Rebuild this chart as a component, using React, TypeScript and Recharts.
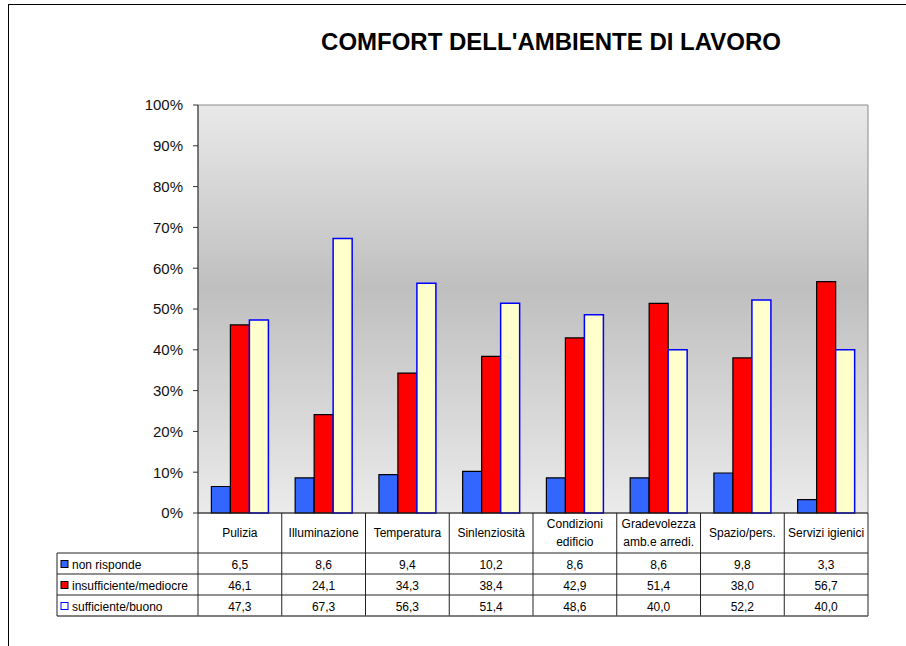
import { BarChart, Bar, XAxis, YAxis, CartesianGrid, ReferenceArea } from 'recharts';

const categories = [
  'Pulizia',
  'Illuminazione',
  'Temperatura',
  'Sinlenziosità',
  'Condizioni\nedificio',
  'Gradevolezza\namb.e arredi.',
  'Spazio/pers.',
  'Servizi igienici',
];
const nonRisponde = [6.5, 8.6, 9.4, 10.2, 8.6, 8.6, 9.8, 3.3];
const insufficiente = [46.1, 24.1, 34.3, 38.4, 42.9, 51.4, 38.0, 56.7];
const sufficiente = [47.3, 67.3, 56.3, 51.4, 48.6, 40.0, 52.2, 40.0];
const yTicks = [0, 10, 20, 30, 40, 50, 60, 70, 80, 90, 100];

const seriesNames = ['non risponde', 'insufficiente/mediocre', 'sufficiente/buono'];
const seriesValues = [nonRisponde, insufficiente, sufficiente];

const data = categories.map((c, i) => ({
  name: c,
  nr: nonRisponde[i],
  ins: insufficiente[i],
  suf: sufficiente[i],
}));

const W = 906;
const H = 646;
const PLOT_LEFT = 198;
const PLOT_RIGHT = 868;
const PLOT_TOP = 105;
const PLOT_BOTTOM = 513;
const COL_W = (PLOT_RIGHT - PLOT_LEFT) / categories.length;
const ROW_LINES = [553, 574, 595, 616];
const TABLE_LEFT = 57;
const FONT = '"Liberation Sans", Arial, sans-serif';

const fills = ['#3366ff', '#ff0000', '#ffffcc'];
const strokes = ['#000000', '#000000', '#0000ff'];

const fmt = (v: number) => v.toFixed(1).replace('.', ',');

// category label + the three value rows, drawn under each x tick
const TableTick = (props: any) => {
  const { x, payload } = props;
  const idx = categories.indexOf(payload.value);
  const lines = String(payload.value).split('\n');
  const labelMid = (PLOT_BOTTOM + ROW_LINES[0]) / 2;
  return (
    <g fontFamily={FONT} fontSize={12} fill="#000">
      {lines.map((l, k) => (
        <text
          key={k}
          x={x}
          y={labelMid + (k - (lines.length - 1) / 2) * 18}
          textAnchor="middle"
          dominantBaseline="central"
        >
          {l}
        </text>
      ))}
      {seriesValues.map((vals, r) => (
        <text
          key={r}
          x={x}
          y={(ROW_LINES[r] + ROW_LINES[r + 1]) / 2 + 1}
          textAnchor="middle"
          dominantBaseline="central"
        >
          {fmt(vals[idx])}
        </text>
      ))}
      <line x1={x + COL_W / 2} x2={x + COL_W / 2} y1={PLOT_BOTTOM} y2={ROW_LINES[3]} stroke="#222" />
      {idx === 0 && (
        <line x1={x - COL_W / 2} x2={x - COL_W / 2} y1={PLOT_BOTTOM} y2={ROW_LINES[3]} stroke="#222" />
      )}
    </g>
  );
};

export default function App() {
  return (
    <div style={{ position: 'absolute', left: 0, top: 0, width: W, height: H, background: '#fff' }}>
      <div
        style={{
          position: 'absolute',
          left: 8,
          top: 4,
          right: 0,
          bottom: 0,
          borderTop: '1px solid #000',
          borderLeft: '1px solid #000',
        }}
      />
      <div
        style={{
          position: 'absolute',
          left: 551 - 300,
          width: 600,
          top: 28,
          textAlign: 'center',
          fontFamily: FONT,
          fontWeight: 'bold',
          fontSize: 24,
          color: '#000',
        }}
      >
        COMFORT DELL'AMBIENTE DI LAVORO
      </div>
      <div style={{ position: 'absolute', left: 0, top: 0 }}>
        <BarChart
          width={W}
          height={H}
          data={data}
          margin={{ top: PLOT_TOP, right: W - PLOT_RIGHT, bottom: 20, left: 0 }}
          barCategoryGap="16%"
          barGap={0}
        >
          <defs>
            <linearGradient id="plotBg" x1="0" y1="0" x2="0" y2="1">
              <stop offset="0" stopColor="#e9e9e9" />
              <stop offset="0.45" stopColor="#bfbfbf" />
              <stop offset="1" stopColor="#ebebeb" />
            </linearGradient>
          </defs>
          <CartesianGrid horizontal={false} vertical={false} fill="url(#plotBg)" />
          <ReferenceArea y1={0} y2={100} fill="none" stroke="#8a8a8a" strokeWidth={1} />
          <XAxis
            dataKey="name"
            interval={0}
            height={H - PLOT_BOTTOM - 20}
            axisLine={{ stroke: '#222' }}
            tickLine={false}
            tick={<TableTick />}
          />
          <YAxis
            domain={[0, 100]}
            ticks={yTicks}
            width={PLOT_LEFT}
            tickFormatter={(v: number) => `${v}%`}
            tick={{ fontSize: 15, fill: '#111', fontFamily: FONT }}
            tickSize={5}
            tickMargin={10}
            axisLine={{ stroke: '#333' }}
            tickLine={{ stroke: '#333' }}
          />
          <Bar dataKey="nr" fill={fills[0]} stroke={strokes[0]} strokeWidth={1.2} isAnimationActive={false} />
          <Bar dataKey="ins" fill={fills[1]} stroke={strokes[1]} strokeWidth={1.2} isAnimationActive={false} />
          <Bar dataKey="suf" fill={fills[2]} stroke={strokes[2]} strokeWidth={1.5} isAnimationActive={false} />
        </BarChart>
      </div>
      <svg
        width={W}
        height={H}
        style={{ position: 'absolute', left: 0, top: 0, pointerEvents: 'none' }}
      >
        {ROW_LINES.map((y, i) => (
          <line
            key={i}
            x1={TABLE_LEFT}
            x2={PLOT_RIGHT}
            y1={y}
            y2={y}
            stroke={i === 3 ? '#555' : '#222'}
            strokeWidth={i === 3 ? 1.5 : 1}
          />
        ))}
        <line x1={TABLE_LEFT} x2={TABLE_LEFT} y1={ROW_LINES[0]} y2={ROW_LINES[3]} stroke="#222" />
        {seriesNames.map((n, r) => {
          const cy = (ROW_LINES[r] + ROW_LINES[r + 1]) / 2 + 1;
          return (
            <g key={n}>
              <rect x={61} y={cy - 4} width={7} height={7} fill={r === 2 ? '#ffffff' : fills[r]} stroke={strokes[r]} />
              <text x={72} y={cy} dominantBaseline="central" fontFamily={FONT} fontSize={12} fill="#000">
                {n}
              </text>
            </g>
          );
        })}
      </svg>
    </div>
  );
}
